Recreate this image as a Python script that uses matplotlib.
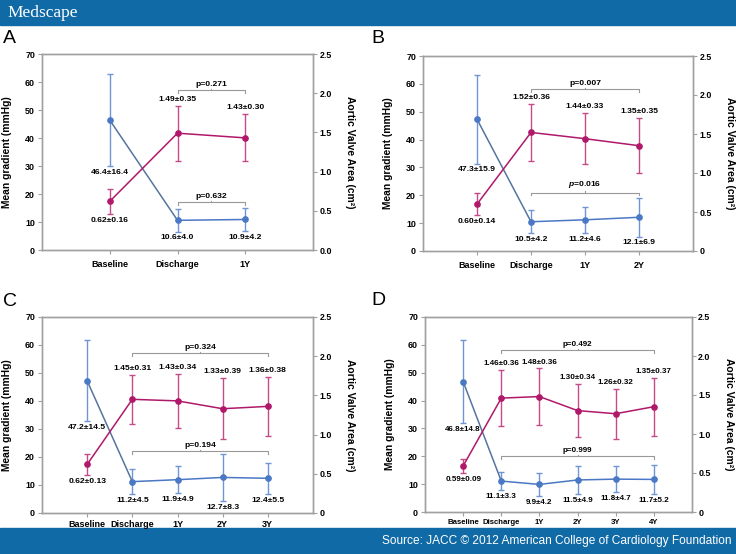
import matplotlib.pyplot as plt
from matplotlib.patches import Rectangle

plt.rcParams['font.family'] = ['Liberation Sans', 'DejaVu Sans']
plt.rcParams['font.weight'] = 'bold'
plt.rcParams['axes.labelweight'] = 'bold'
plt.rcParams['mathtext.fontset'] = 'custom'
plt.rcParams['mathtext.it'] = 'Liberation Sans:italic:bold'
plt.rcParams['mathtext.rm'] = 'Liberation Sans:bold'

# Panel A
a_cats = ["Baseline", "Discharge", "1Y"]
a_grad = [46.4, 10.6, 10.9]
a_grad_sd = [16.4, 4.0, 4.2]
a_ava = [0.62, 1.49, 1.43]
a_ava_sd = [0.16, 0.35, 0.30]
a_p = ["p=0.271", "p=0.632"]

# Panel B
b_cats = ["Baseline", "Discharge", "1Y", "2Y"]
b_grad = [47.3, 10.5, 11.2, 12.1]
b_grad_sd = [15.9, 4.2, 4.6, 6.9]
b_ava = [0.60, 1.52, 1.44, 1.35]
b_ava_sd = [0.14, 0.36, 0.33, 0.35]
b_p = ["p=0.007", "$p$=0.016"]

# Panel C
c_cats = ["Baseline", "Discharge", "1Y", "2Y", "3Y"]
c_grad = [47.2, 11.2, 11.9, 12.7, 12.4]
c_grad_sd = [14.5, 4.5, 4.9, 8.3, 5.5]
c_ava = [0.62, 1.45, 1.43, 1.33, 1.36]
c_ava_sd = [0.13, 0.31, 0.34, 0.39, 0.38]
c_p = ["p=0.324", "p=0.194"]

# Panel D
d_cats = ["Baseline", "Discharge", "1Y", "2Y", "3Y", "4Y"]
d_grad = [46.8, 11.1, 9.9, 11.5, 11.8, 11.7]
d_grad_sd = [14.8, 3.3, 4.2, 4.9, 4.7, 5.2]
d_ava = [0.59, 1.46, 1.48, 1.30, 1.26, 1.35]
d_ava_sd = [0.09, 0.36, 0.36, 0.34, 0.32, 0.37]
d_p = ["p=0.492", "p=0.999"]

BLUE = "#4a78c4"
BLUE_DARK = "#56759e"
BLUE_ERR = "#6f95d6"
MAG = "#b0186a"
MAG_ERR = "#c44a88"
GRAY = "#a0a0a0"
HEAD = "#106aa6"

W, H = 736, 554
fig = plt.figure(figsize=(W / 100, H / 100), dpi=100)


def px(x0, y0, x1, y1):
    # pixel box -> figure rect
    return [x0 / W, 1 - y1 / H, (x1 - x0) / W, (y1 - y0) / H]


def bracket(ax, x0, x1, y, text, fs):
    ax.plot([x0, x0, x1, x1], [y - 0.8, y, y, y - 0.8], color="#999999", lw=0.8)
    xm = (x0 + x1) / 2
    ax.plot([xm, xm], [y, y + 0.5], color="#999999", lw=0.8)
    ax.text(xm, y + 1.0, text, ha="center", va="bottom", fontsize=fs)


def draw_panel(box, letter, lpos, cats, grad, grad_sd, ava, ava_sd, pvals, br_y,
               zero_lbl, fs, xfs, xpad):
    ax = fig.add_axes(px(*box))
    ax2 = ax.twinx()
    x = list(range(len(cats)))

    ax.errorbar(x, grad, yerr=grad_sd, fmt="none", ecolor=BLUE_ERR, elinewidth=1,
                capsize=2.2, capthick=1)
    ax.plot(x[:2], grad[:2], color=BLUE_DARK, lw=1.1)
    ax.plot(x[1:], grad[1:], color=BLUE, lw=1.1)
    ax.plot(x, grad, "o", color=BLUE, ms=3.8)
    for i in x:
        ax.text(x[i], grad[i] - grad_sd[i] - 2.3, "%.1f\u00b1%.1f" % (grad[i], grad_sd[i]),
                ha="center", va="center", fontsize=fs)

    ax2.errorbar(x, ava, yerr=ava_sd, fmt="none", ecolor=MAG_ERR, elinewidth=1,
                 capsize=2.2, capthick=1)
    ax2.plot(x, ava, "-o", color=MAG, lw=1.1, ms=3.8)
    off = 2.3 / 28
    for i in x:
        s = "%.2f\u00b1%.2f" % (ava[i], ava_sd[i])
        if i == 0:
            ax2.text(x[i], ava[i] - ava_sd[i] - off, s, ha="center", va="center", fontsize=fs)
        else:
            ax2.text(x[i], ava[i] + ava_sd[i] + off, s, ha="center", va="center", fontsize=fs)

    bracket(ax, 1, x[-1], br_y[0], pvals[0], fs)
    bracket(ax, 1, x[-1], br_y[1], pvals[1], fs)

    ax.set_xlim(-1, len(cats))
    ax.set_ylim(0, 70)
    ax2.set_ylim(0, 2.5)
    ax.set_xticks(x, cats)
    ax.set_yticks(range(0, 71, 10))
    ax2.set_yticks([0, 0.5, 1.0, 1.5, 2.0, 2.5],
                   [zero_lbl, "0.5", "1.0", "1.5", "2.0", "2.5"])
    for a in (ax, ax2):
        for s in a.spines.values():
            s.set_color(GRAY)
            s.set_linewidth(1)
    ax.tick_params(axis="y", length=3, color=GRAY, labelsize=6.4, pad=2)
    ax.tick_params(axis="x", length=3, color=GRAY, labelsize=xfs, pad=xpad)
    ax2.tick_params(axis="y", length=3, color=GRAY, labelsize=6.4, pad=1.5)
    ax.set_ylabel("Mean gradient (mmHg)", fontsize=7.4, va="center")
    ax.yaxis.set_label_coords(-35 / (box[2] - box[0]), 0.5)
    ax2.set_ylabel("Aortic Valve Area (cm\u00b2)", fontsize=7.4, rotation=-90, va="center")
    ax2.yaxis.set_label_coords(1 + 37 / (box[2] - box[0]), 0.5)

    fig.text(lpos[0] / W, 1 - lpos[1] / H, letter, fontsize=14, fontweight="normal",
             va="baseline")


draw_panel((42, 54, 313, 250), "A", (3, 43), a_cats, a_grad, a_grad_sd, a_ava, a_ava_sd,
           a_p, (57, 17), "0.0", 6.1, 6.5, 4)
draw_panel((423, 56, 693, 251), "B", (371, 43), b_cats, b_grad, b_grad_sd, b_ava, b_ava_sd,
           b_p, (58, 21), "0", 6.1, 6.5, 4)
draw_panel((42, 317, 313, 513), "C", (3, 306), c_cats, c_grad, c_grad_sd, c_ava, c_ava_sd,
           c_p, (57, 22), "0", 6.1, 6.5, 2)
draw_panel((425, 317, 692, 512), "D", (371, 305), d_cats, d_grad, d_grad_sd, d_ava, d_ava_sd,
           d_p, (58, 20), "0", 5.8, 5.6, 2)

# header and footer bars
fig.add_artist(Rectangle((0, 1 - 25 / H), 1, 25 / H, transform=fig.transFigure,
                         color=HEAD, zorder=-1))
fig.add_artist(Rectangle((0, 0), 1, 26 / H, transform=fig.transFigure,
                         color=HEAD, zorder=-1))
fig.text(7 / W, 1 - 13 / H, "Medscape", color="white", fontsize=12.5, va="center",
         family="Liberation Serif", fontweight="normal")
fig.text(731 / W, 1 - 541 / H, "Source: JACC \u00a9 2012 American College of Cardiology Foundation",
         color="white", fontsize=8.6, ha="right", va="center", fontweight="normal")

fig.savefig("out.png", dpi=100)
